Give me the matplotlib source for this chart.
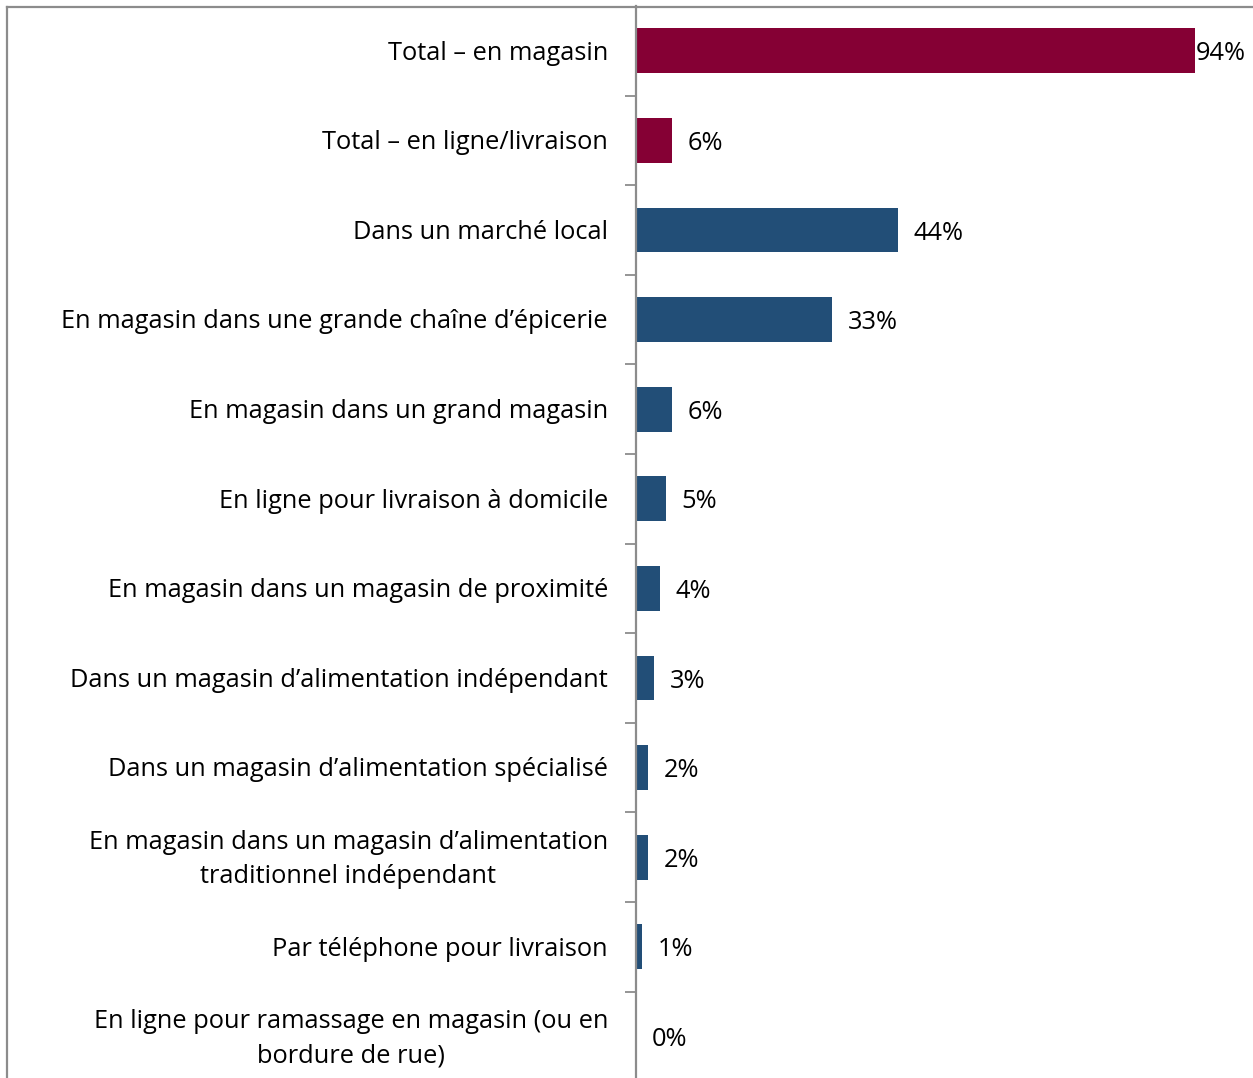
import matplotlib.pyplot as plt
from matplotlib.lines import Line2D

plt.rcParams['font.family'] = ['Open Sans', 'DejaVu Sans']

categories = [
    'Total – en magasin',
    'Total – en ligne/livraison',
    'Dans un marché local',
    'En magasin dans une grande chaîne d’épicerie',
    'En magasin dans un grand magasin',
    'En ligne pour livraison à domicile',
    'En magasin dans un magasin de proximité',
    'Dans un magasin d’alimentation indépendant',
    'Dans un magasin d’alimentation spécialisé',
    'En magasin dans un magasin d’alimentation\ntraditionnel indépendant',
    'Par téléphone pour livraison',
    'En ligne pour ramassage en magasin (ou en\nbordure de rue)',
]
values = [94, 6, 44, 33, 6, 5, 4, 3, 2, 2, 1, 0]
is_total = [True, True] + [False] * 10

RED = '#850034'
BLUE = '#224E77'
GREY = '#8C8C8C'

W, H = 1253, 1078
fig = plt.figure(figsize=(W / 100, H / 100), dpi=100)

# plot area: left edge at the value axis, top at the frame line
ax_left, ax_top = 636 / W, 1 - 6 / H
ax = fig.add_axes([ax_left, 0, 1 - ax_left, ax_top])

band = 89.6
ax_h_px = H - 6
y = list(range(len(categories)))
colors = [RED if t else BLUE for t in is_total]
ax.barh(y, values, height=0.5, color=colors)

ax.set_ylim(-0.5 + ax_h_px / band, -0.5)
px_per_unit = 5.95
ax.set_xlim(0, (W - 636) / px_per_unit)

FS = 18.3

# value labels
for yi, v in zip(y, values):
    off = 0.1 if v > 90 else 2.6
    ax.text(v + off, yi + 0.035, f'{v}%', va='center', ha='left', fontsize=FS, color='black')

# category labels
for yi, c in zip(y, categories):
    ax.text(-28 / px_per_unit, yi + 0.025, c, va='center', ha='right', multialignment='center',
            fontsize=FS, color='black', linespacing=1.5, clip_on=False)

ax.set_yticks([])
ax.set_yticks([i + 0.5 for i in range(len(categories) - 1)], minor=True)
ax.tick_params(axis='y', which='minor', length=8, width=1.3, color=GREY, labelleft=False)
ax.set_xticks([])
for s in ['top', 'right', 'bottom']:
    ax.spines[s].set_visible(False)
ax.spines['left'].set_color(GREY)
ax.spines['left'].set_linewidth(1.6)

# outer frame lines
fig.add_artist(Line2D([7 / W, 1], [1 - 6.5 / H, 1 - 6.5 / H], color=GREY, lw=1.6,
                      transform=fig.transFigure))
fig.add_artist(Line2D([7 / W, 7 / W], [0, 1 - 6.5 / H], color=GREY, lw=1.6,
                      transform=fig.transFigure))

fig.savefig('out.png', dpi=100, facecolor='white')
